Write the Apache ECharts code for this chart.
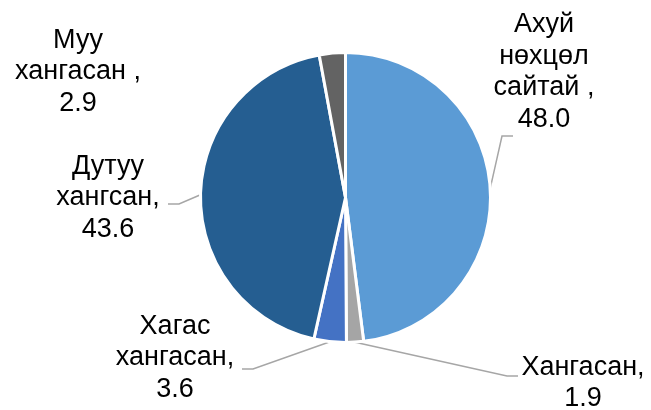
<!DOCTYPE html>
<html>
<head>
<meta charset="utf-8">
<script src="https://cdn.jsdelivr.net/npm/echarts@6/dist/echarts.min.js"></script>
<style>
  html, body { margin: 0; padding: 0; background: #fff; }
  #chart { width: 651px; height: 410px; }
</style>
</head>
<body>
<div id="chart"></div>
<script>
// categories (label text as shown) and values
const names = ['Ахуй\nнөхцөл\nсайтай ,', 'Хангасан,', 'Хагас\nхангасан,', 'Дутуу\nхангсан,', 'Муу\nхангасан ,']
const values = [48.0, 1.9, 3.6, 43.6, 2.9]
const colors = ['#5B9BD5', '#A5A5A5', '#4472C4', '#255E91', '#636363']

// label centre, and where the leader line meets it (offset from centre, side it comes from)
const labelBox = [
  { x: 544, y: 72, lx: -31, ly: 64, dir: -1 },
  { x: 583, y: 383, lx: -65, ly: -7, dir: -1 },
  { x: 175, y: 358, lx: 67, ly: 11, dir: 1 },
  { x: 108, y: 198, lx: 60, ly: 6, dir: 1 },
  { x: 78, y: 72 }
]

const chart = echarts.init(document.getElementById('chart'))

const option = {
  animation: false,
  series: [
    {
      type: 'pie',
      center: [345.5, 197.5],
      radius: [0, 145],
      startAngle: 90,
      clockwise: true,
      itemStyle: {
        borderColor: '#fff',
        borderWidth: 3
      },
      label: {
        show: true,
        position: 'outside',
        color: '#000',
        fontFamily: 'Liberation Sans, Arial, sans-serif',
        fontSize: 27,
        lineHeight: 31.5,
        align: 'center',
        overflow: 'none',
        formatter: p => p.name + '\n' + p.value.toFixed(1)
      },
      labelLine: {
        show: true,
        length: 10,
        length2: 11,
        lineStyle: { color: '#A6A6A6', width: 1.5 }
      },
      labelLayout: function (params) {
        const b = labelBox[params.dataIndex]
        const out = { x: b.x, y: b.y, align: 'center', verticalAlign: 'middle' }
        if (b.dir && params.labelLinePoints) {
          const start = params.labelLinePoints[0]
          const end = [b.x + b.lx, b.y + b.ly]
          out.labelLinePoints = [start, [end[0] + b.dir * 11, end[1]], end]
        }
        return out
      },
      data: names.map((n, i) => ({
        name: n,
        value: values[i],
        itemStyle: { color: colors[i] },
        labelLine: { show: i !== 4 }
      }))
    }
  ]
}
chart.setOption(option)
</script>
</body>
</html>
